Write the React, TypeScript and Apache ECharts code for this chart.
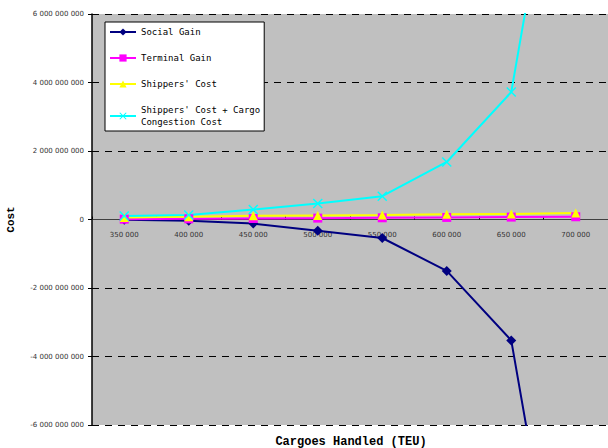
import React, { useEffect, useRef } from "react";
import * as echarts from "echarts";

const categories = ["350 000", "400 000", "450 000", "500 000", "550 000", "600 000", "650 000", "700 000"];
const socialGain = [-0.01e9, -0.04e9, -0.12e9, -0.33e9, -0.54e9, -1.5e9, -3.53e9, -14.3e9];
const terminalGain = [0.01e9, 0.02e9, 0.03e9, 0.04e9, 0.05e9, 0.06e9, 0.07e9, 0.08e9];
const shippersCost = [0.06e9, 0.08e9, 0.11e9, 0.12e9, 0.13e9, 0.15e9, 0.16e9, 0.19e9];
const shippersCostCongestion = [0.1e9, 0.13e9, 0.29e9, 0.47e9, 0.68e9, 1.68e9, 3.72e9, 14.5e9];
const yTicks = { min: -6e9, max: 6e9, interval: 2e9 };

const xSymbol = "path://M0,1L1,0L5,4L9,0L10,1L6,5L10,9L9,10L5,6L1,10L0,9L4,5Z";

function fmt(v: number): string {
  const s = Math.abs(Math.round(v)).toString().replace(/\B(?=(\d{3})+(?!\d))/g, " ");
  return (v < 0 ? "-" : "") + s;
}

const GRID_TOP = 14;
const GRID_BOTTOM = 23;
const H = 448;

export default function App() {
  const ref = useRef<HTMLDivElement>(null);
  useEffect(() => {
    if (!ref.current) return;
    const chart = echarts.init(ref.current, undefined, { renderer: "svg" });
    const mono = "DejaVu Sans Mono";
    const plotH = H - GRID_TOP - GRID_BOTTOM;
    const zeroFromBottom = (plotH * (0 - yTicks.min)) / (yTicks.max - yTicks.min);
    chart.setOption({
      animation: false,
      backgroundColor: "#ffffff",
      grid: {
        left: 92,
        right: 0,
        top: GRID_TOP,
        bottom: GRID_BOTTOM,
        show: true,
        backgroundColor: "#c0c0c0",
        borderWidth: 0,
        outerBoundsMode: "none",
        containLabel: false,
      },
      legend: {
        orient: "vertical",
        left: 105,
        top: 22,
        backgroundColor: "#ffffff",
        borderColor: "#000000",
        borderWidth: 1,
        borderRadius: 0,
        padding: [4, 4, 3, 4],
        itemGap: 14,
        itemWidth: 26,
        itemHeight: 9,
        textStyle: { fontFamily: mono, fontSize: 9, color: "#000", lineHeight: 12 },
        data: ["Social Gain", "Terminal Gain", "Shippers' Cost", "Shippers' Cost + Cargo\nCongestion Cost"],
      },
      xAxis: {
        type: "category",
        data: categories,
        offset: -zeroFromBottom,
        axisLine: { onZero: false, lineStyle: { color: "#404040", width: 1 } },
        axisTick: { show: true, inside: true, length: 3, lineStyle: { color: "#000" } },
        axisLabel: { fontFamily: "DejaVu Sans", fontSize: 7, color: "#333", margin: 12 },
        splitLine: { show: false },
      },
      yAxis: {
        type: "value",
        min: yTicks.min,
        max: yTicks.max,
        interval: yTicks.interval,
        name: "Cost",
        nameLocation: "middle",
        nameGap: 76,
        nameTextStyle: { fontFamily: "Liberation Mono", fontSize: 11, fontWeight: "bold", color: "#000" },
        axisLine: { show: true, lineStyle: { color: "#000", width: 1.5 } },
        axisTick: { show: true, length: 4, lineStyle: { color: "#000" } },
        axisLabel: { fontFamily: "DejaVu Sans", fontSize: 7, color: "#333", margin: 8, formatter: (v: number) => fmt(v) },
        splitLine: { show: true, lineStyle: { color: "#000", type: [7, 6], width: 1 } },
      },
      graphic: [
        {
          type: "text",
          x: 351,
          y: 442,
          style: {
            text: "Cargoes Handled (TEU)",
            font: "bold 12px 'Liberation Mono'",
            fill: "#000",
            align: "center",
            verticalAlign: "middle",
          },
        },
      ],
      series: [
        {
          name: "Social Gain",
          type: "line",
          data: socialGain,
          symbol: "diamond",
          symbolSize: 10,
          color: "#000080",
          lineStyle: { width: 2, color: "#000080" },
          clip: true,
        },
        {
          name: "Terminal Gain",
          type: "line",
          data: terminalGain,
          symbol: "rect",
          symbolSize: 9,
          color: "#ff00ff",
          lineStyle: { width: 2, color: "#ff00ff" },
          clip: true,
        },
        {
          name: "Shippers' Cost",
          type: "line",
          data: shippersCost,
          symbol: "triangle",
          symbolSize: 9,
          color: "#ffff00",
          lineStyle: { width: 2, color: "#ffff00" },
          clip: true,
        },
        {
          name: "Shippers' Cost + Cargo\nCongestion Cost",
          type: "line",
          data: shippersCostCongestion,
          symbol: xSymbol,
          symbolSize: 10,
          color: "#00ffff",
          lineStyle: { width: 2, color: "#00ffff" },
          clip: true,
        },
      ],
    });
    return () => chart.dispose();
  }, []);
  return (
    <div
      ref={ref}
      style={{ position: "fixed", left: 0, top: 0, width: 608, height: 448 }}
    />
  );
}
